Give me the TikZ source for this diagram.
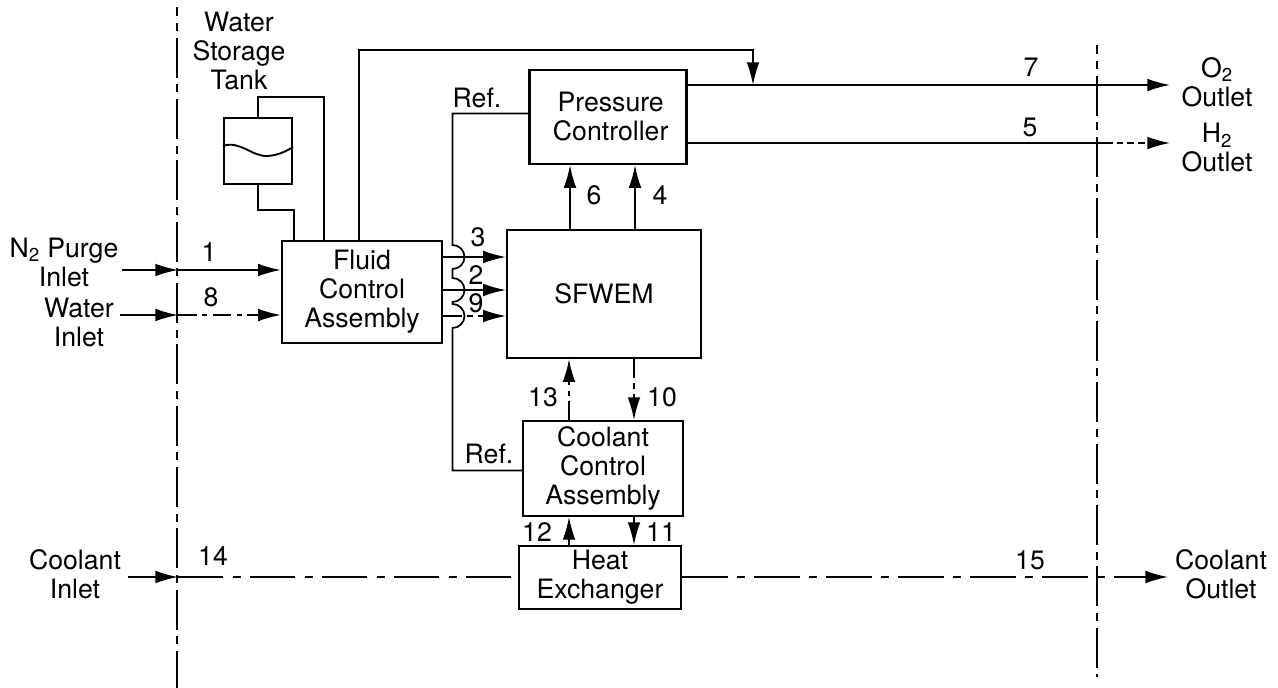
\documentclass[tikz,border=0pt]{standalone}
\usepackage{fontspec}
\setmainfont{TeX Gyre Heros}
\usetikzlibrary{arrows.meta}
\tikzset{
	blockbox/.style={draw,line width=1.8pt,align=center,inner sep=0pt,font=\fontsize{20}{21.75}\selectfont},
	txt/.style={align=center,inner sep=0pt,font=\fontsize{20}{21.75}\selectfont},
	pipe/.style={line width=1.1pt},
	refpipe/.style={line width=1.3pt},
	flow/.style={pipe,-{Latex[length=17,width=9.5]}},
	dashflow/.style={flow,dash pattern=on 34pt off 7pt on 6pt off 7pt},
	dashpipe/.style={pipe,dash pattern=on 34pt off 7pt on 6pt off 7pt},
	shortflow/.style={flow,dash pattern=on 14pt off 4pt on 4pt off 4pt},
	dotflow/.style={flow,dash pattern=on 5pt off 3pt},
	bound/.style={line width=1.1pt,dash pattern=on 30pt off 5pt on 6pt off 5pt,dash phase=23pt}
}
\begin{document}
\begin{tikzpicture}[x=0.75pt,y=0.75pt,yscale=-1,xscale=1]
	\path[use as bounding box] (0,0) rectangle (1278,688);
	
	%boxes
	\node[blockbox,minimum width=120pt,minimum height=76.5pt] (fluid) at (362,292) {Fluid\\Control\\Assembly};
	\node[blockbox,minimum width=145.5pt,minimum height=96pt] (sfwem) at (604,294) {SFWEM};
	\node[blockbox,minimum width=118pt,minimum height=70.5pt] (press) at (608,117) {\hspace*{4pt}Pressure\\\hspace*{4pt}Controller};
	\node[blockbox,minimum width=120pt,minimum height=71pt] (cool) at (603,468.5) {Coolant\\Control\\Assembly};
	\node[blockbox,minimum width=121.5pt,minimum height=47pt] (heat) at (600,577.5) {Heat\\Exchanger};
	\node[blockbox,minimum width=51pt,minimum height=49.5pt] (tank) at (258,151) {};
	
	%tank level
	\draw[pipe,line width=1.4pt] (tank.west |- 0,146) .. controls (240,140) and (252,157) .. (268,156) .. controls (280,155) and (288,150) .. (tank.east |- 0,147);
	
	%free ends
	\coordinate (n2start) at (122,270);
	\coordinate (n2cross) at (178,270);
	\coordinate (h2ostart) at (120,315);
	\coordinate (h2ocross) at (178,315);
	\coordinate (cin) at (128,577);
	\coordinate (ccross) at (178,577);
	\coordinate (o2end) at (1170,85);
	\coordinate (h2end) at (1170,143);
	\coordinate (h2break) at (1106,143);
	\coordinate (cout) at (1168,577);
	\coordinate (o2join) at (753,85);
	
	%boundaries
	\draw[bound] (177,7) -- (177,688);
	\draw[bound] (1097,45) -- (1097,677);
	
	%inlets
	\draw[flow] (n2start) -- (n2cross);
	\draw[flow] (n2cross) -- (fluid.west |- n2cross);
	\draw[flow] (h2ostart) -- (h2ocross);
	\draw[shortflow] (h2ocross) -- (fluid.west |- h2ocross);
	\draw[flow] (cin) -- (ccross);
	\draw[dashpipe] (ccross) -- (heat.west |- ccross);
	\draw[dashflow] (heat.east |- cout) -- (cout);
	
	%tank lines
	\draw[pipe] (tank.north) |- (324,97) -- (fluid.north -| 324,0);
	\draw[pipe] (tank.south) |- (294,210) -- (fluid.north -| 294,0);
	\draw[flow] (fluid.north -| 359,0) |- (753,50) -- (o2join);
	
	%outlets
	\draw[flow] (press.east |- o2end) -- (o2end);
	\draw[pipe] (press.east |- h2end) -- (h2break);
	\draw[dotflow] (h2break) -- (h2end);
	
	%fluid to stack
	\draw[flow] (fluid.east |- 0,257) -- (sfwem.west |- 0,257);
	\draw[flow] (fluid.east |- 0,290) -- (sfwem.west |- 0,290);
	\draw[shortflow] (fluid.east |- 0,316) -- (sfwem.west |- 0,316);
	
	%ref line
	\draw[refpipe] (press.west |- 0,113.5) -- (452.5,113.5) -- (452.5,245) arc[start angle=-90,end angle=90,radius=12]
		-- (452.5,278) arc[start angle=-90,end angle=90,radius=12]
		-- (452.5,304) arc[start angle=-90,end angle=90,radius=12]
		-- (452.5,470.5) -- (cool.west |- 0,470.5);
	
	%vertical flows
	\draw[flow] (sfwem.north -| 570,0) -- (press.south -| 570,0);
	\draw[flow] (sfwem.north -| 635,0) -- (press.south -| 635,0);
	\draw[shortflow] (cool.north -| 569,0) -- (sfwem.south -| 569,0);
	\draw[shortflow] (sfwem.south -| 634,0) -- (cool.north -| 634,0);
	\draw[dotflow] (heat.north -| 569,0) -- (cool.south -| 569,0);
	\draw[flow] (cool.south -| 634,0) -- (heat.north -| 634,0);
	
	%labels
	\node[txt] (tanklbl) at (239,51) {Water\\Storage\\Tank};
	\node[txt] (n2lbl) at (64,262) {N\textsubscript{2} Purge\\Inlet};
	\node[txt] (waterlbl) at (79,322) {Water\\Inlet};
	\node[txt] (cinlbl) at (75,574) {Coolant\\Inlet};
	\node[txt] (o2lbl) at (1217,82) {O\textsubscript{2}\\Outlet};
	\node[txt] (h2lbl) at (1217,148) {H\textsubscript{2}\\Outlet};
	\node[txt] (coutlbl) at (1221,574) {Coolant\\Outlet};
	\node[txt] (ref1) at (477,98) {Ref.};
	\node[txt] (ref2) at (489,454) {Ref.};
	\node[txt] (l1) at (209,252) {1};
	\node[txt] (l8) at (211,297) {8};
	\node[txt] (l3) at (478,237) {3};
	\node[txt] (l2) at (476,275) {2};
	\node[txt] (l9) at (476,303) {9};
	\node[txt] (l6) at (594,195) {6};
	\node[txt] (l4) at (660,195) {4};
	\node[txt] (l7) at (1031,67) {7};
	\node[txt] (l5) at (1030,127) {5};
	\node[txt] (l13) at (543,397) {13};
	\node[txt] (l10) at (662,397) {10};
	\node[txt] (l12) at (537,532) {12};
	\node[txt] (l11) at (661,532) {11};
	\node[txt] (l14) at (213,556) {14};
	\node[txt] (l15) at (1030,560) {15};
\end{tikzpicture}
\end{document}
